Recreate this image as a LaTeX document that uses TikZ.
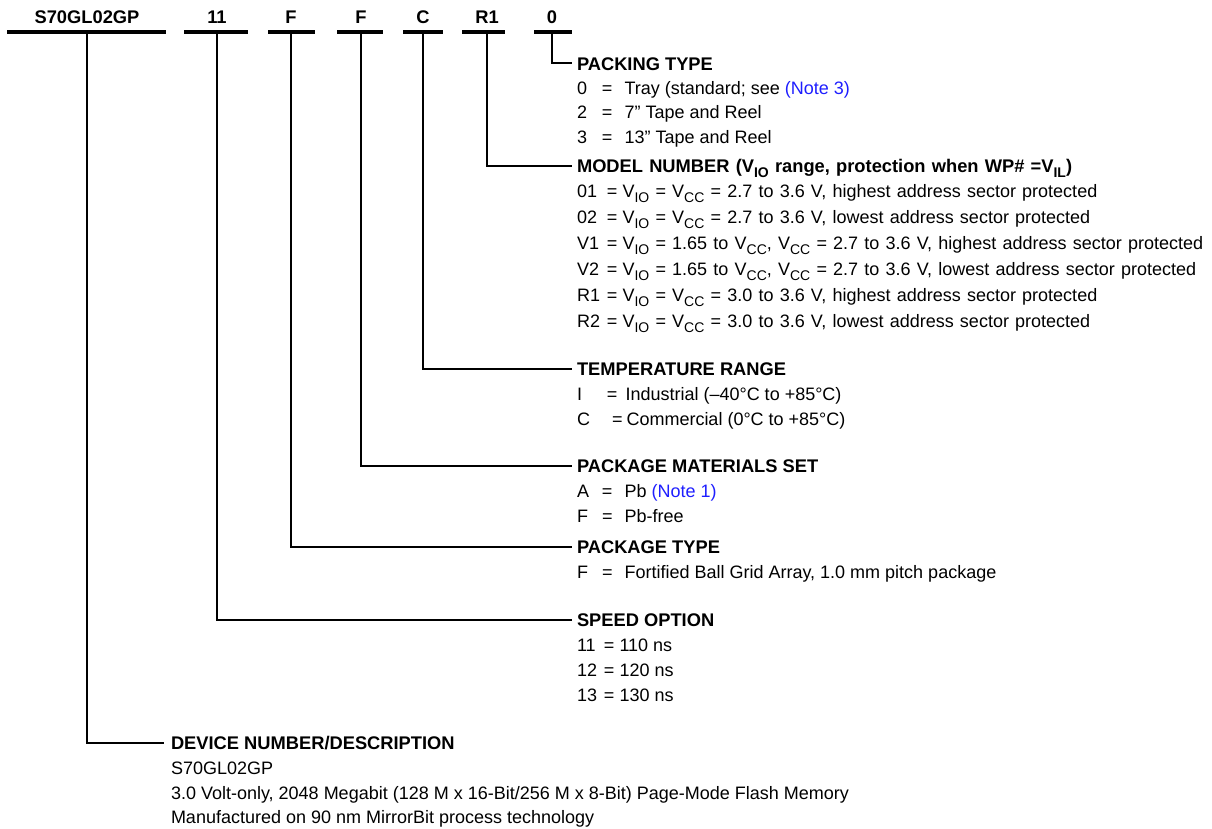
\documentclass[tikz,border=0pt]{standalone}
\usepackage{fontspec}
\setmainfont{Liberation Sans}
\definecolor{noteblue}{RGB}{30,30,255}
\newcommand\sbs[1]{\raisebox{-0.28em}{\fontsize{14}{14}\selectfont #1}}
\newcommand\one[2]{\makebox[25pt][l]{#1}=\hspace{12pt}#2}
\newcommand\two[2]{\makebox[30pt][l]{#1}=\hspace{5pt}#2}
\newcommand\spd[2]{\makebox[27pt][l]{#1}=\hspace{5pt}#2}
\newcommand\note[1]{\textcolor{noteblue}{#1}}
\newlength\widespace
\setlength\widespace{6.2pt}
\newcommand\wsp{\spaceskip=\widespace\relax}
\begin{document}
\begin{tikzpicture}[x=1pt,y=-1pt,
 every node/.style={inner sep=0pt, outer sep=0pt},
 tx/.style={anchor=base west, font=\fontsize{18}{18}\selectfont},
 hd/.style={anchor=base west, font=\fontsize{18.3}{18.3}\selectfont\bfseries},
 pn/.style={anchor=base, font=\fontsize{18.3}{18.3}\selectfont\bfseries},
 bar/.style={line width=3.2pt},
 lead/.style={line width=1.8pt},
 thin/.style={line width=1.1pt}]
\useasboundingbox (0,0) rectangle (1212,829);

% part number fields
\node[pn] (p1) at (87,24) {S70GL02GP};
\node[pn] (p2) at (217,24) {11};
\node[pn] (p3) at (291,24) {F};
\node[pn] (p4) at (361,24) {F};
\node[pn] (p5) at (423,24) {C};
\node[pn] (p6) at (487,24) {R1};
\node[pn] (p7) at (552,24) {0};

\draw[bar] (7,32) -- (166,32);
\draw[bar] (184,32) -- (248,32);
\draw[bar] (268,32) -- (315,32);
\draw[bar] (337,32) -- (383,32);
\draw[bar] (403,32) -- (443,32);
\draw[bar] (462,32) -- (505,32);
\draw[bar] (534,32) -- (572,32);

\coordinate (t1) at (87,32);
\coordinate (t2) at (217,32);
\coordinate (t3) at (291,32);
\coordinate (t4) at (361,32);
\coordinate (t5) at (423,32);
\coordinate (t6) at (487,32);
\coordinate (t7) at (552,32);

% packing type
\node[hd] (pkh) at (577,70.4) {PACKING TYPE};
\node[tx] (pk0) at (577,94.4) {\one{0}{Tray (standard; see \note{(Note 3)}}};
\node[tx] (pk2) at (577,118.4) {\one{2}{7” Tape and Reel}};
\node[tx] (pk3) at (577,143.4) {\one{3}{13” Tape and Reel}};
\coordinate (e7) at (572,63);
\draw[thin] (t7) |- (e7);

% model number
\node[hd] (mnh) at (577,172.4) {\wsp MODEL NUMBER (V\sbs{IO} range, protection when WP\# =V\sbs{IL})};
\node[tx] (mn1) at (577,197.4) {\wsp\two{01}{V\sbs{IO} = V\sbs{CC} = 2.7 to 3.6 V, highest address sector protected}};
\node[tx] (mn2) at (577,223.4) {\wsp\two{02}{V\sbs{IO} = V\sbs{CC} = 2.7 to 3.6 V, lowest address sector protected}};
\node[tx] (mn3) at (577,249.4) {\wsp\two{V1}{V\sbs{IO} = 1.65 to V\sbs{CC}, V\sbs{CC} = 2.7 to 3.6 V, highest address sector protected}};
\node[tx] (mn4) at (577,275.4) {\wsp\two{V2}{V\sbs{IO} = 1.65 to V\sbs{CC}, V\sbs{CC} = 2.7 to 3.6 V, lowest address sector protected}};
\node[tx] (mn5) at (577,301.4) {\wsp\two{R1}{V\sbs{IO} = V\sbs{CC} = 3.0 to 3.6 V, highest address sector protected}};
\node[tx] (mn6) at (577,327.4) {\wsp\two{R2}{V\sbs{IO} = V\sbs{CC} = 3.0 to 3.6 V, lowest address sector protected}};
\coordinate (e6) at (572,166);
\draw[lead] (t6) |- (e6);

% temperature range
\node[hd] (trh) at (577,375.4) {TEMPERATURE RANGE};
\node[tx] (tr1) at (577,400.4) {\makebox[30pt][l]{I}=\hspace{8pt}Industrial (–40°C to +85°C)};
\node[tx] (tr2) at (577,425.4) {\makebox[35pt][l]{C}=\hspace{4pt}Commercial (0°C to +85°C)};
\coordinate (e5) at (572,369);
\draw[lead] (t5) |- (e5);

% package materials set
\node[hd] (pmh) at (577,472.4) {PACKAGE MATERIALS SET};
\node[tx] (pm1) at (577,497.4) {\one{A}{Pb \note{(Note 1)}}};
\node[tx] (pm2) at (577,522.4) {\one{F}{Pb-free}};
\coordinate (e4) at (572,466);
\draw[thin] (t4) |- (e4);

% package type
\node[hd] (pth) at (577,553.4) {PACKAGE TYPE};
\node[tx] (pt1) at (577,578.4) {\one{F}{Fortified Ball Grid Array, 1.0 mm pitch package}};
\coordinate (e3) at (572,547);
\draw[lead] (t3) |- (e3);

% speed option
\node[hd] (soh) at (577,626.4) {SPEED OPTION};
\node[tx] (so1) at (577,651.4) {\spd{11}{110 ns}};
\node[tx] (so2) at (577,676.4) {\spd{12}{120 ns}};
\node[tx] (so3) at (577,701.4) {\spd{13}{130 ns}};
\coordinate (e2) at (572,620);
\draw[lead] (t2) |- (e2);

% device number
\node[hd] (dnh) at (171,749.4) {DEVICE NUMBER/DESCRIPTION};
\node[tx] (dn1) at (171,774.4) {S70GL02GP};
\node[tx] (dn2) at (171,799.4) {3.0 Volt-only, 2048 Megabit (128 M x 16-Bit/256 M x 8-Bit) Page-Mode Flash Memory};
\node[tx] (dn3) at (171,823.4) {Manufactured on 90 nm MirrorBit process technology};
\coordinate (e1) at (164,743);
\draw[lead] (t1) |- (e1);
\end{tikzpicture}
\end{document}
